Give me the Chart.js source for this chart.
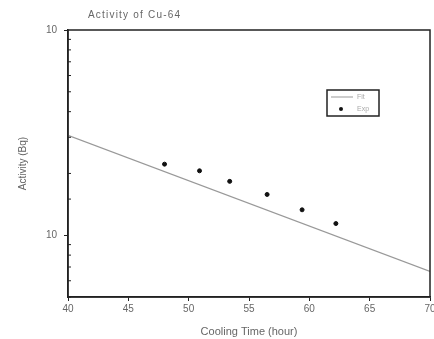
<!DOCTYPE html>
<html>
<head>
<meta charset="utf-8">
<script src="https://cdn.jsdelivr.net/npm/chart.js@4/dist/chart.umd.min.js"></script>
<style>
  html, body { margin: 0; padding: 0; background: #fff; overflow: hidden; }
  #wrap { width: 434px; height: 339px; position: relative; }
</style>
</head>
<body>
<div id="wrap"><canvas id="c" width="434" height="339"></canvas></div>
<script>
// Measured points (Exp) and fitted decay line (Fit)
const expTimes = [48.0, 50.9, 53.4, 56.5, 59.4, 62.2];
const expActivity = [22.2, 20.6, 18.3, 15.8, 13.3, 11.4];
const fitTimes = [40, 70];
const fitActivity = [30.7, 6.67];

// Tick labels as printed on the figure
const xTickValues = [40, 45, 50, 55, 60, 65, 70];
const yTickLabels = { 10: '10', 100: '10' };

const textColor = '#666';
const fontFamily = 'Arial, "Liberation Sans", sans-serif';

// draws the frame round the plot and the boxed legend
const framePlugin = {
  id: 'frame',
  afterDraw(chart) {
    const { ctx, chartArea: a } = chart;
    ctx.save();
    ctx.strokeStyle = '#222';
    ctx.lineWidth = 1.5;
    ctx.strokeRect(a.left, a.top, a.right - a.left, a.bottom - a.top);

    // minor log ticks inside the left axis
    const y = chart.scales.y;
    ctx.lineWidth = 1;
    y.ticks.forEach(t => {
      if (yTickLabels[t.value]) return;
      const py = y.getPixelForValue(t.value);
      ctx.beginPath();
      ctx.moveTo(a.left, py);
      ctx.lineTo(a.left + 3, py);
      ctx.stroke();
    });

    // legend box
    const bx = 327, by = 90, bw = 52, bh = 26;
    ctx.fillStyle = '#fff';
    ctx.fillRect(bx, by, bw, bh);
    ctx.strokeStyle = '#222';
    ctx.lineWidth = 1.5;
    ctx.strokeRect(bx, by, bw, bh);
    ctx.font = '7px ' + fontFamily;
    ctx.textBaseline = 'middle';
    ctx.fillStyle = '#aaa';
    const fit = chart.data.datasets[0], exp = chart.data.datasets[1];
    ctx.strokeStyle = fit.borderColor;
    ctx.lineWidth = 1;
    ctx.beginPath();
    ctx.moveTo(bx + 4, by + 7);
    ctx.lineTo(bx + 26, by + 7);
    ctx.stroke();
    ctx.fillText(fit.label, bx + 30, by + 7);
    ctx.fillStyle = exp.backgroundColor;
    ctx.beginPath();
    ctx.arc(bx + 14, by + 19, 2, 0, Math.PI * 2);
    ctx.fill();
    ctx.fillStyle = '#aaa';
    ctx.fillText(exp.label, bx + 30, by + 19);

    // title, spaced out like the scanned original
    ctx.font = '10px ' + fontFamily;
    ctx.letterSpacing = '1.2px';
    ctx.fillStyle = textColor;
    ctx.textBaseline = 'middle';
    ctx.fillText('Activity of Cu-64', 88, 15);
    ctx.restore();
  }
};

new Chart(document.getElementById('c'), {
  type: 'scatter',
  data: {
    datasets: [
      {
        label: 'Fit',
        type: 'line',
        data: fitTimes.map((t, i) => ({ x: t, y: fitActivity[i] })),
        borderColor: '#999',
        borderWidth: 1.2,
        pointRadius: 0,
        fill: false
      },
      {
        label: 'Exp',
        data: expTimes.map((t, i) => ({ x: t, y: expActivity[i] })),
        backgroundColor: '#111',
        borderColor: '#111',
        pointRadius: 2,
        pointHoverRadius: 2
      }
    ]
  },
  options: {
    responsive: false,
    animation: false,
    layout: { padding: { top: 30, right: 4, left: 0, bottom: 0 } },
    plugins: { legend: { display: false }, tooltip: { enabled: false } },
    scales: {
      x: {
        type: 'linear',
        min: 40,
        max: 70,
        afterBuildTicks: s => { s.ticks = xTickValues.map(v => ({ value: v })); },
        afterFit: s => { s.height = 42; s.paddingLeft = 0; s.paddingRight = 0; },
        border: { display: true, color: '#222', width: 1.5 },
        grid: { display: true, drawOnChartArea: false, tickLength: 4, color: '#222' },
        ticks: { color: textColor, font: { size: 10, family: fontFamily }, padding: 2, maxRotation: 0 },
        title: {
          display: true,
          text: 'Cooling Time (hour)',
          color: textColor,
          font: { size: 11, family: fontFamily },
          padding: { top: 3, bottom: 0 }
        }
      },
      y: {
        type: 'logarithmic',
        min: 5,
        max: 100,
        afterFit: s => { s.width = 68; },
        border: { display: true, color: '#222', width: 1.5 },
        grid: {
          display: true,
          drawOnChartArea: false,
          tickLength: 4,
          color: ctx => (ctx.tick && yTickLabels[ctx.tick.value]) ? '#222' : 'rgba(0,0,0,0)'
        },
        ticks: {
          color: textColor,
          font: { size: 10, family: fontFamily },
          padding: 7,
          autoSkip: false,
          callback: v => yTickLabels[v] || ''
        },
        title: {
          display: true,
          text: 'Activity (Bq)',
          color: textColor,
          font: { size: 10, family: fontFamily },
          padding: { top: 17, bottom: 0 }
        }
      }
    }
  },
  plugins: [framePlugin]
});
</script>
</body>
</html>
